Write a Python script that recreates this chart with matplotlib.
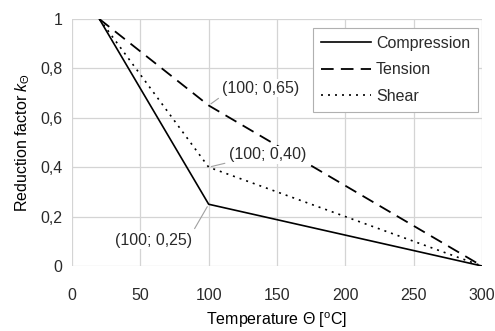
import matplotlib
matplotlib.use("Agg")
import matplotlib.pyplot as plt

plt.rcParams['font.family'] = ['Liberation Sans', 'DejaVu Sans']
plt.rcParams['font.size'] = 11.5
plt.rcParams['mathtext.fontset'] = 'custom'
plt.rcParams['mathtext.rm'] = 'Liberation Sans'
plt.rcParams['mathtext.it'] = 'Liberation Sans:italic'
plt.rcParams['text.color'] = '#2a2a2a'
plt.rcParams['xtick.color'] = '#2a2a2a'
plt.rcParams['ytick.color'] = '#2a2a2a'

# data (temperature in deg C, reduction factor)
temps = [20, 100, 300]
compression = [1.0, 0.25, 0.0]
tension = [1.0, 0.65, 0.0]
shear = [1.0, 0.40, 0.0]

x_ticks = [0, 50, 100, 150, 200, 250, 300]
y_ticks = [0, 0.2, 0.4, 0.6, 0.8, 1.0]
y_tick_labels = ['0', '0,2', '0,4', '0,6', '0,8', '1']

fig = plt.figure(figsize=(4.95, 3.31), dpi=100)
ax = fig.add_axes([0.1455, 0.1964, 0.8282, 0.7462])

ax.plot(temps, compression, color='black', lw=1.2, label='Compression', zorder=3)
ax.plot(temps, tension, color='black', lw=1.3, dashes=(7, 4), label='Tension', zorder=3)
ax.plot(temps, shear, color='black', lw=1.2, dashes=(1.2, 3), label='Shear', zorder=3)

# point labels with thin leader lines, white box hides lines behind text
lead = dict(arrowstyle='-', color='#a0a0a0', lw=0.8, shrinkA=2, shrinkB=2)
box = dict(boxstyle='square,pad=0.1', fc='white', ec='none')
ax.annotate('(100; 0,65)', xy=(100, 0.65), xytext=(110, 0.69), zorder=4,
            ha='left', va='bottom', bbox=box, arrowprops=dict(lead, relpos=(0, 0)))
ax.annotate('(100; 0,40)', xy=(100, 0.40), xytext=(115, 0.42), zorder=4,
            ha='left', va='bottom', bbox=box, arrowprops=dict(lead, relpos=(0, 0)))
ax.annotate('(100; 0,25)', xy=(100, 0.25), xytext=(88, 0.135), zorder=4,
            ha='right', va='top', bbox=box, arrowprops=dict(lead, relpos=(1, 1)))

ax.set_xlim(0, 300)
ax.set_ylim(0, 1)
ax.set_xticks(x_ticks)
ax.set_yticks(y_ticks)
ax.set_yticklabels(y_tick_labels)
ax.tick_params(length=0, labelsize=11.5)
ax.tick_params(axis='x', pad=16)
ax.tick_params(axis='y', pad=7)
for s in ax.spines.values():
    s.set_visible(False)
ax.grid(True, color='#d4d4d4', lw=0.9)
ax.set_axisbelow(True)

ax.set_xlabel(r'Temperature $\mathit{Θ}$ [$^{\rm o}$C]', labelpad=5)
ax.set_ylabel(r'Reduction factor $\mathit{k}_{\mathit{Θ}}$', labelpad=6)

leg = ax.legend(loc='upper right', bbox_to_anchor=(0.99, 0.964), borderaxespad=0,
                fancybox=False, framealpha=1, edgecolor='#b0b0b0',
                handlelength=3.1, labelspacing=0.72, handletextpad=0.3,
                borderpad=0.5, fontsize=11.5)
leg.get_frame().set_linewidth(0.8)

fig.savefig('out.png', dpi=100)
